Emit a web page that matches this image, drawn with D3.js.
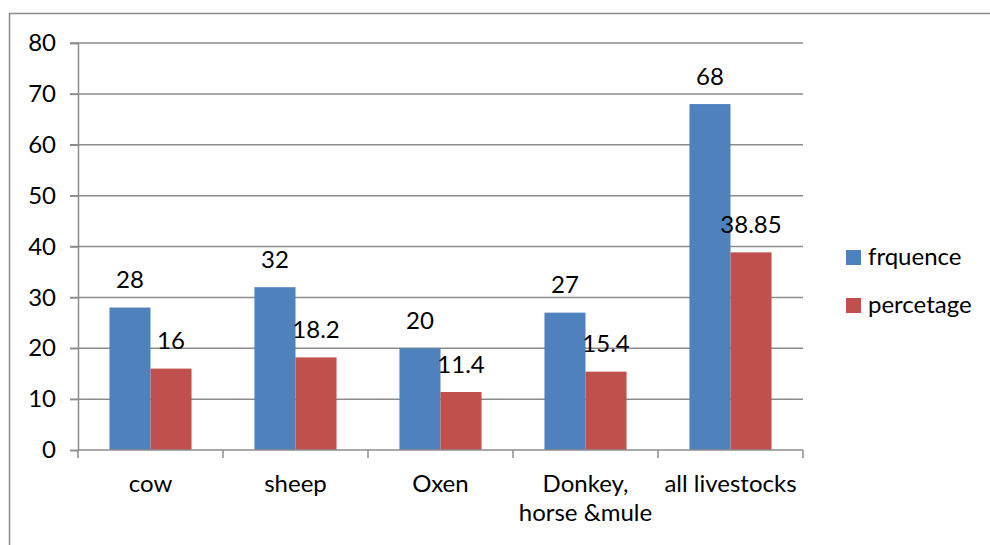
<!DOCTYPE html>
<html>
<head>
<meta charset="utf-8">
<script src="https://cdn.jsdelivr.net/npm/d3@7"></script>
<style>
  html, body { margin: 0; padding: 0; background: #fff; }
  text { font-family: Lato, "Open Sans", sans-serif; fill: #000; }
</style>
</head>
<body>
<svg id="chart" width="990" height="545"></svg>
<script>
const categories = [["cow"], ["sheep"], ["Oxen"], ["Donkey,", "horse &mule"], ["all livestocks"]];
const seriesNames = ["frquence", "percetage"];
const frequence = [28, 32, 20, 27, 68];
const percentage = [16, 18.2, 11.4, 15.4, 38.85];
const yTicks = [0, 10, 20, 30, 40, 50, 60, 70, 80];
const colors = ["#4F81BD", "#C0504D"];

(function () {
const svg = d3.select("#chart");
const fontSize = 24;
const gridColor = "#8c8c8c";

// outer chart border
svg.append("rect").attr("x", 9.5).attr("y", 13.5).attr("width", 1000).attr("height", 600)
  .attr("fill", "none").attr("stroke", gridColor).attr("stroke-width", 1.5);

const pLeft = 78, pRight = 803, pTop = 43, pBottom = 450;
const x = d3.scaleBand().domain(d3.range(categories.length)).range([pLeft, pRight]);
const y = d3.scaleLinear().domain([0, 80]).range([pBottom, pTop]);

// gridlines
svg.append("g").selectAll("line").data(yTicks.filter(d => d > 0)).join("line")
  .attr("x1", pLeft - 8).attr("x2", pRight).attr("y1", d => y(d)).attr("y2", d => y(d))
  .attr("stroke", gridColor).attr("stroke-width", 1.5);

// y-axis
const yAxis = svg.append("g").attr("transform", `translate(${pLeft},0)`)
  .call(d3.axisLeft(y).tickValues(yTicks).tickSize(8).tickPadding(14));
yAxis.select(".domain").attr("stroke", gridColor).attr("stroke-width", 1.5);
yAxis.selectAll(".tick line").attr("stroke", gridColor).attr("stroke-width", 1.5);
yAxis.selectAll(".tick text").style("font-size", fontSize + "px").style("font-family", "Lato, sans-serif").attr("fill", "#000");

// bars
const bw = x.bandwidth() * 0.283;
const series = [frequence, percentage];
series.forEach((vals, si) => {
  const g = svg.append("g");
  g.selectAll("rect").data(vals).join("rect")
    .attr("x", (d, i) => x(i) + x.bandwidth() / 2 - bw + si * bw)
    .attr("y", d => y(d))
    .attr("width", bw)
    .attr("height", d => y(0) - y(d))
    .attr("fill", colors[si]);
  g.selectAll("text").data(vals).join("text")
    .attr("x", (d, i) => x(i) + x.bandwidth() / 2 - bw / 2 + si * bw)
    .attr("y", d => y(d) - 19.5)
    .attr("text-anchor", "middle")
    .style("font-size", fontSize + "px")
    .text(d => d);
});

// x-axis
const xAxisG = svg.append("g");
xAxisG.append("line").attr("x1", pLeft).attr("x2", pRight).attr("y1", pBottom).attr("y2", pBottom)
  .attr("stroke", gridColor).attr("stroke-width", 1.5);
xAxisG.selectAll("line.tk").data(d3.range(categories.length + 1)).join("line").attr("class", "tk")
  .attr("x1", i => pLeft + i * x.step()).attr("x2", i => pLeft + i * x.step())
  .attr("y1", pBottom).attr("y2", pBottom + 8)
  .attr("stroke", gridColor).attr("stroke-width", 1.5);
categories.forEach((lines, i) => {
  const t = xAxisG.append("text").attr("text-anchor", "middle").style("font-size", fontSize + "px")
    .attr("x", x(i) + x.bandwidth() / 2).attr("y", 492);
  lines.forEach((ln, j) => t.append("tspan").attr("x", x(i) + x.bandwidth() / 2).attr("dy", j === 0 ? 0 : 29).text(ln));
});

// legend
const legend = svg.append("g");
seriesNames.forEach((name, i) => {
  legend.append("rect").attr("x", 846).attr("y", 250 + i * 48).attr("width", 15).attr("height", 15).attr("fill", colors[i]);
  legend.append("text").attr("x", 868).attr("y", 265 + i * 48).style("font-size", fontSize + "px").text(name);
});
})();
</script>
</body>
</html>
